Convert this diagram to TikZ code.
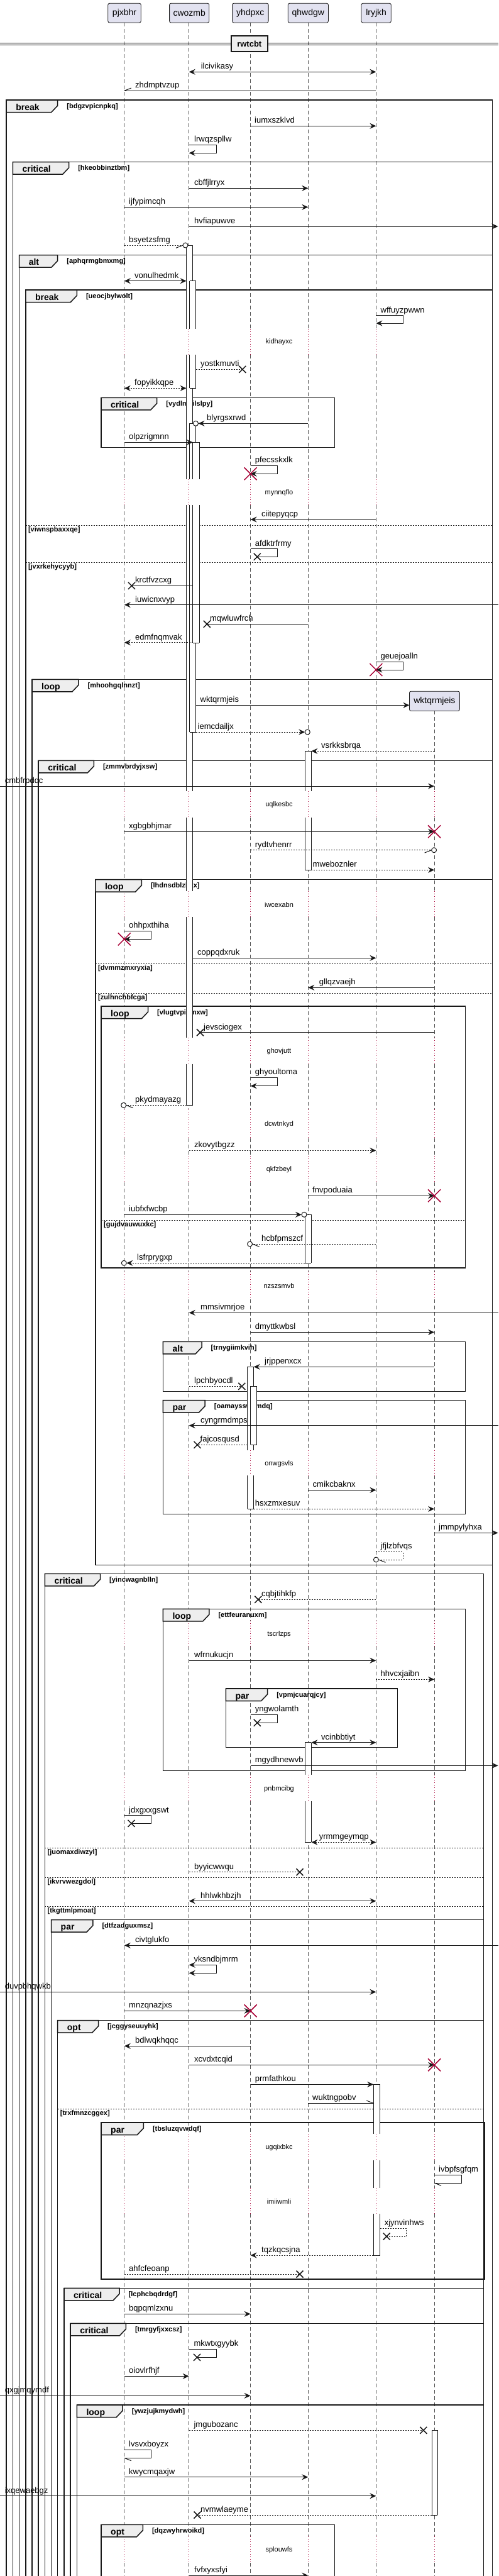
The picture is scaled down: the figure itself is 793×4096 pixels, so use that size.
\documentclass[tikz,border=0pt]{standalone}
\usepackage{fontspec}
\setmainfont{Liberation Sans}
\usetikzlibrary{arrows.meta}
\definecolor{lc}{HTML}{181818}
\definecolor{pfill}{HTML}{E2E2F0}
\definecolor{tabfill}{HTML}{EEEEEE}
\definecolor{dcol}{HTML}{A80036}
\newcommand\mfont{\fontsize{13}{15}\selectfont}
\newcommand\pfont{\fontsize{14}{16}\selectfont}
\newcommand\kfont{\bfseries\fontsize{14}{16}\selectfont}
\newcommand\cfont{\bfseries\fontsize{11}{13}\selectfont}
\newcommand\dfont{\fontsize{11}{13}\selectfont}
\def\XA{197.8}\def\XB{300.7}\def\XC{398.6}\def\XD{490.3}\def\XE{598.4}\def\XF{691.1}
\newcommand\Msg[6][]{\draw[msgl,#1] (#2,#4) -- (#3,#4); \node[lbl] at (#5,#4-4.5) {#6};}
\newcommand\SelfM[7][]{\draw[msgl,#1] (#2,#3) -- (#5,#3) -- (#5,#4) -- (#2,#4); \node[lbl] at (#6,#3-4.5) {#7};}
\newcommand\Xb[2]{\draw[lc,line width=1.5pt] (#1-5.5,#2-5.5) -- (#1+5.5,#2+5.5) (#1-5.5,#2+5.5) -- (#1+5.5,#2-5.5);}
\newcommand\Xr[2]{\draw[dcol,line width=1.5pt] (#1-10,#2-10) -- (#1+10,#2+10) (#1-10,#2+10) -- (#1+10,#2-10);}
\newcommand\CircE[2]{\draw[lc,line width=1pt,fill=white] (#1,#2) circle (4pt);}
\newcommand\HalfL[3]{\draw[msgl] (#1,#2) -- ++(-11*#3,4.3);}
\newcommand\HalfU[3]{\draw[msgl] (#1,#2) -- ++(-11*#3,-4.3);}
\newcommand\BarP[4]{\fill[white] (#1,#3) rectangle (#2,#4); \draw[barl] (#1,#3) -- (#1,#4) (#2,#3) -- (#2,#4);}
\newcommand\BarC[3]{\draw[barl] (#1,#3) -- (#2,#3);}
\newcommand\Frm[7]{%
  \draw[frm] (#1,#4) -- (#1,#2) -- (#3,#2) -- (#3,#4) -- cycle;
  \filldraw[frm,fill=tabfill] (#1,#2) -- (#6,#2) -- (#6,#2+9) -- (#6-10,#2+19.5) -- (#1,#2+19.5) -- cycle;
  \node[kwl] at (#1+15,#2+16) {#5};
  \node[cnl] at (#6+14.5,#2+13) {[#7]};}
\newcommand\Els[4]{\draw[lc,line width=1pt,dash pattern=on 2pt off 2pt] (#1,#3) -- (#2,#3); \node[cnl] at (#1+4,#3+10) {[#4]};}
\def\NonDelay{36/522.7,564/761.7,803.3/1258.3,1300/1416.7,1458.3/1650,1691.7/1764,1810/1838,1880/2022,2066/2305.7,2346/2576.7,2618/2822.3,2864/3393.3,3435/3479.3,3520/4033,4075/4100}
\def\NonDelayF{1130.3/1258.3,1300/1416.7,1458.3/1650,1691.7/1764,1810/1838,1880/2022,2066/2305.7,2346/2576.7,2618/2822.3,2864/3393.3,3435/3479.3,3520/4033,4075/4100}
\def\DlyEarly{522.7/564/543.3/kidhayxc,761.7/803.3/783.3/mynnqflo}
\def\DlyLate{1258.3/1300/1280/uqlkesbc,1416.7/1458.3/1438.3/iwcexabn,1650/1691.7/1671.7/ghovjutt,1764/1810/1787.3/dcwtnkyd,1838/1880/1859.3/qkfzbeyl,2022/2066/2045/nzszsmvb,2305.7/2346/2327.3/onwgsvls,2576.7/2618/2598.3/tscrlzps,2822.3/2864/2844.3/pnbmcibg,3393.3/3435/3415/ugqixbkc,3479.3/3520/3500/imiiwmli,4033/4075/4054.3/splouwfs}
\begin{document}
\begin{tikzpicture}[x=1pt,y=-1pt,
  >={Stealth[length=10pt,width=9pt,inset=3.5pt]},
  msgl/.style={draw=lc,line width=1pt},
  dsh/.style={dash pattern=on 2pt off 2pt},
  lbl/.style={font=\mfont,anchor=base west,inner sep=0pt},
  life/.style={draw=lc!75,line width=0.8pt,dash pattern=on 6pt off 4pt},
  dly/.style={draw=dcol,line width=0.8pt,dash pattern=on 1pt off 3pt},
  frm/.style={draw=lc,line width=1.5pt},
  kwl/.style={font=\kfont,anchor=base west,inner sep=0pt},
  cnl/.style={font=\cfont,anchor=base west,inner sep=0pt},
  barl/.style={draw=lc,line width=1pt},
  pbox/.style={draw=lc,line width=0.8pt,fill=pfill,rounded corners=2.5pt,font=\pfont,inner sep=0pt,minimum height=30.7pt}]
\useasboundingbox (0,0) rectangle (793,4096);
\fill[white] (0,0) rectangle (793,4096);
% lifelines
\foreach \x in {\XA,\XB,\XC,\XD,\XE}{\foreach \a/\b in \NonDelay {\draw[life] (\x,\a) -- (\x,\b);}}
\foreach \a/\b in \NonDelayF {\draw[life] (\XF,\a) -- (\XF,\b);}
\foreach \a/\b/\c/\t in \DlyEarly {\foreach \x in {\XA,\XB,\XC,\XD,\XE}{\draw[dly] (\x,\a) -- (\x,\b);}}
\foreach \a/\b/\c/\t in \DlyLate {\foreach \x in {\XA,\XB,\XC,\XD,\XE,\XF}{\draw[dly] (\x,\a) -- (\x,\b);}}
% participants
\node[pbox,minimum width=52.5pt] (pjxbhr) at (198.05,20.65) {pjxbhr};
\node[pbox,minimum width=63.2pt] (cwozmb) at (301.2,20.65) {cwozmb};
\node[pbox,minimum width=57.6pt] (yhdpxc) at (398.3,20.65) {yhdpxc};
\node[pbox,minimum width=64.2pt] (qhwdgw) at (490.3,20.65) {qhwdgw};
\node[pbox,minimum width=47.3pt] (lryjkh) at (598.65,20.65) {lryjkh};
\node[pbox,minimum width=80pt,minimum height=31pt] (wktq) at (691.4,1114.8) {wktqrmjeis};
% divider
\draw[lc,line width=1pt] (0,68.3) -- (793,68.3) (0,71.3) -- (793,71.3);
\node[draw=lc,line width=2pt,fill=tabfill,font=\bfseries\fontsize{13}{15}\selectfont,minimum width=57.6pt,minimum height=24.7pt,inner sep=0pt] (rwtcbt) at (396.8,69.65) {rwtcbt};
% frames
\Frm{10.2}{159}{783.4}{4100}{break}{91.7}{bdgzvpicnpkq}
\Frm{20.4}{257.7}{783.4}{4100}{critical}{109.6}{hkeobbinztbm}
\Frm{30.6}{405.7}{783.4}{4100}{alt}{91.7}{aphqrmgbmxmg}
\Frm{40.8}{461}{783.4}{4100}{break}{122.3}{ueocjbylwolt}
\Frm{161}{632.3}{532.6}{711.7}{critical}{249.7}{vydlmhilslpy}
\Els{40.8}{783.4}{835.3}{viwnspbaxxqe}
\Els{40.8}{783.4}{894.3}{jvxrkehycyyb}
\Frm{51}{1080.3}{783.4}{4100}{loop}{124.9}{mhoohgqlnnzt}
\Frm{61.2}{1209.3}{783.4}{4100}{critical}{149.3}{zmmvbrdyjxsw}
\Frm{151.9}{1398.7}{783.4}{2488.3}{loop}{225.3}{lhdnsdblzhkx}
\Els{151.9}{783.4}{1532.3}{dvmmzmxryxia}
\Els{151.9}{783.4}{1579.3}{zulhnchbfcga}
\Frm{161}{1600}{740.6}{2016}{loop}{235.5}{vlugtvpiumxw}
\Els{161}{740.6}{1940}{gujdvauwuxkc}
\Frm{259.4}{2133.3}{740.6}{2212.3}{alt}{321}{trnygiimkvih}
\Frm{259.4}{2226.7}{740.6}{2407.3}{par}{326.2}{oamaysswpmdq}
\Frm{71.4}{2502.3}{769.6}{4100}{critical}{159.5}{yincwagnblln}
\Frm{259.4}{2558.3}{740.6}{2815.7}{loop}{332.8}{ettfeuranuxm}
\Frm{359.3}{2685}{632.5}{2778.7}{par}{425.6}{vpmjcuarqjcy}
\Els{71.4}{769.6}{2938.3}{juomaxdiwzyl}
\Els{71.4}{769.6}{2985.3}{ikvrvwezgdol}
\Els{71.4}{769.6}{3031.3}{tkgttmlpmoat}
\Frm{81.5}{3052.7}{769.6}{4100}{par}{147.8}{dtfzadguxmsz}
\Frm{91.7}{3212.7}{769.6}{4100}{opt}{156.5}{jcggyseuuyhk}
\Els{91.7}{769.6}{3353.3}{trxfmnzcggex}
\Frm{161}{3375}{771}{3624}{par}{228.3}{tbsluzqvwdqf}
\Frm{102}{3638.3}{769.6}{4100}{critical}{190}{lcphcbqdrdgf}
\Frm{112.1}{3694.3}{769.6}{4100}{critical}{200.3}{tmrgyfjxxcsz}
\Frm{122.3}{3824}{769.6}{4100}{loop}{195.2}{ywzjujkmydwh}
\Frm{161}{4014.3}{532.6}{4100}{opt}{227.3}{dqzwyhrwoikd}
% activation bars
\BarP{296.6}{306.8}{390}{522.7}\BarP{296.6}{306.8}{564}{761.7}\BarP{296.6}{306.8}{803.3}{1258.3}\BarP{296.6}{306.8}{1300}{1416.7}\BarP{296.6}{306.8}{1458.3}{1650}\BarP{296.6}{306.8}{1691.7}{1757.3}
\BarC{296.6}{306.8}{390}\BarC{296.6}{306.8}{1757.3}
\BarP{301.7}{311.9}{446.7}{522.7}\BarP{301.7}{311.9}{564}{617.3}\BarC{301.7}{311.9}{446.7}\BarC{301.7}{311.9}{617.3}
\BarP{301.7}{311.9}{673.3}{761.7}\BarP{301.7}{311.9}{803.3}{1164.3}\BarC{301.7}{311.9}{673.3}\BarC{301.7}{311.9}{1164.3}
\BarP{306.8}{317}{703.3}{761.7}\BarP{306.8}{317}{803.3}{1022.3}\BarC{306.8}{317}{703.3}\BarC{306.8}{317}{1022.3}
\BarP{485.2}{495.4}{1194.3}{1258.3}\BarP{485.2}{495.4}{1300}{1383.3}\BarC{485.2}{495.4}{1194.3}\BarC{485.2}{495.4}{1383.3}
\BarP{485.2}{495.4}{1931.3}{2008.3}\BarC{485.2}{495.4}{1931.3}\BarC{485.2}{495.4}{2008.3}
\BarP{393.5}{403.7}{2173.3}{2305.7}\BarP{393.5}{403.7}{2346}{2399.3}\BarC{393.5}{403.7}{2173.3}\BarC{393.5}{403.7}{2399.3}
\BarP{398.6}{408.8}{2204.3}{2297.3}\BarC{398.6}{408.8}{2204.3}\BarC{398.6}{408.8}{2297.3}
\BarP{485.2}{495.4}{2770.7}{2822.3}\BarP{485.2}{495.4}{2864}{2929.3}\BarC{485.2}{495.4}{2770.7}\BarC{485.2}{495.4}{2929.3}
\BarP{594.3}{604.5}{3314.3}{3393.3}\BarP{594.3}{604.5}{3435}{3479.3}\BarP{594.3}{604.5}{3520}{3586}\BarC{594.3}{604.5}{3314.3}\BarC{594.3}{604.5}{3586}
\BarP{687}{696.2}{3864.3}{3999}\BarC{687}{696.2}{3864.3}\BarC{687}{696.2}{3999}
% messages
\Msg[<->]{\XB}{\XE}{114.3}{319.6}{ilcivikasy}
\Msg{\XE}{\XA}{144.3}{215}{zhdmptvzup}\HalfU{\XA}{144.3}{-1}
\Msg[->]{\XC}{\XE}{200.3}{405}{iumxszklvd}
\SelfM[->]{\XB}{230.3}{243.3}{344}{309}{lrwqzspllw}
\Msg[->]{\XB}{\XD}{299.3}{309}{cbffjlrryx}
\Msg[->]{\XA}{\XD}{329.3}{205}{ijfypimcqh}
\Msg[->]{\XB}{792.5}{360}{309}{hvfiapuwve}
\Msg[dsh]{\XA}{291}{390}{205}{bsyetzsfmg}\HalfL{291}{390}{1}\CircE{295}{390}
\Msg[<->]{\XA}{296.6}{446.7}{214}{vonulhedmk}
\SelfM[->]{\XE}{501.7}{514}{641}{605.5}{wffuyzpwwn}
\Msg[dsh]{311.9}{385.8}{587.3}{319}{yostkmuvti}\Xb{385.8}{587.3}
\Msg[<->,dsh]{\XA}{296.6}{617.3}{214}{fopyikkqpe}
\Msg[->]{\XD}{315.5}{673.3}{329}{blyrgsxrwd}\CircE{311.5}{673.3}
\Msg[->]{\XA}{306.8}{703.3}{205}{olpzrigmnn}
\SelfM[->]{\XC}{740.3}{753.3}{441}{405.7}{pfecsskxlk}\Xr{\XC}{753.3}
\Msg[->]{\XE}{\XC}{826}{416}{ciitepyqcp}
\draw[msgl] (\XC,872.7) -- (441,872.7) -- (441,885.3) -- (409.3,885.3); \node[lbl] at (405.7,868.2) {afdktrfrmy}; \Xb{409.3}{885.3}
\Msg{306.8}{209.5}{931.3}{215}{krctfvzcxg}\Xb{209.5}{931.3}
\Msg[->]{792.5}{\XA}{961.7}{215}{iuwicnxvyp}
\Msg{\XD}{329.3}{992.3}{333.8}{mqwluwfrch}\Xb{329.3}{992.3}
\Msg[->,dsh]{306.8}{\XA}{1021.7}{215}{edmfnqmvak}
\SelfM[->]{\XE}{1052.3}{1065}{641}{605.5}{geuejoalln}\Xr{\XE}{1065}
\Msg[->]{311.9}{651.4}{1121.3}{318.5}{wktqrmjeis}
\Msg[->,dsh]{311.9}{485.3}{1164}{314.5}{iemcdailjx}\CircE{489.3}{1164}
\Msg[->,dsh]{\XF}{495.4}{1194.3}{511}{vsrkksbrqa}
\Msg[->]{0}{\XF}{1250}{7.6}{cmbfrpdqc}
\Msg[->]{\XA}{\XF}{1322.3}{205}{xgbgbhjmar}\Xr{\XF}{1322.3}
\Msg[dsh]{\XC}{686.6}{1351.7}{405.7}{rydtvhenrr}\HalfL{686.6}{1351.7}{1}\CircE{690.6}{1351.7}
\Msg[->,dsh]{495.4}{\XF}{1383.3}{497.5}{mweboznler}
\SelfM[->]{\XA}{1480.3}{1493.3}{240.6}{205}{ohhpxthiha}\Xr{\XA}{1493.3}
\Msg[->]{306.8}{\XE}{1523.3}{314}{coppqdxruk}
\Msg[->]{\XF}{\XD}{1570.3}{507.6}{gllqzvaejh}
\Msg{\XF}{318.5}{1641.7}{324}{jevsciogex}\Xb{318.5}{1641.7}
\SelfM[->]{\XC}{1713.3}{1726.7}{441}{405.7}{ghyoultoma}
\Msg[dsh]{296.6}{200.7}{1757.3}{215}{pkydmayazg}\HalfL{200.7}{1757.3}{-1}\CircE{196.7}{1757.3}
\Msg[->,dsh]{\XB}{\XE}{1829.3}{309}{zkovytbgzz}
\Msg[->]{\XD}{\XF}{1901.3}{497}{fnvpoduaia}\Xr{\XF}{1901.3}
\Msg[->]{\XA}{480}{1931.3}{205}{iubfxfwcbp}\CircE{484}{1931.3}
\Msg[dsh]{\XE}{401.6}{1978}{416}{hcbfpmszcf}\HalfL{401.6}{1978}{-1}\CircE{397.6}{1978}
\Msg[->,dsh]{485.2}{201.3}{2008.3}{218}{lsfrprygxp}\CircE{197.3}{2008.3}
\Msg[->]{792.5}{\XB}{2087.3}{319}{mmsivmrjoe}
\Msg[->]{\XC}{\XF}{2118.3}{405.7}{dmyttkwbsl}
\Msg[->]{\XF}{403.7}{2173.3}{421}{jrjppenxcx}
\Msg[dsh]{\XB}{384.8}{2204.3}{309}{lpchbyocdl}\Xb{384.8}{2204.3}
\Msg[->]{792.5}{\XB}{2266.7}{319}{cyngrmdmps}
\Msg[dsh]{393.5}{314}{2297.3}{318.5}{fajcosqusd}\Xb{314}{2297.3}
\Msg[->]{\XD}{\XE}{2369.3}{497.5}{cmikcbaknx}
\Msg[->,dsh]{403.7}{\XF}{2399.3}{405.7}{hsxzmxesuv}
\Msg[->]{\XF}{792.5}{2437.3}{698}{jmmpylyhxa}
\draw[msgl,dsh] (\XE,2467.3) -- (641,2467.3) -- (641,2480) -- (602.4,2480); \HalfL{602.4}{2480}{-1}\CircE{598.4}{2480}
\node[lbl] at (605.5,2462.8) {jfjlzbfvqs};
\Msg[dsh]{\XE}{410.8}{2543.3}{416}{cqbjtihkfp}\Xb{410.8}{2543.3}
\Msg[->]{\XB}{\XE}{2640.3}{309}{wfrnukucjn}
\Msg[->,dsh]{\XE}{\XF}{2670.3}{605.5}{hhvcxjaibn}
\draw[msgl] (\XC,2726) -- (441,2726) -- (441,2739.3) -- (409.3,2739.3); \Xb{409.3}{2739.3}
\node[lbl] at (405.7,2721.5) {yngwolamth};
\Msg[<->]{495.4}{\XE}{2770.7}{511}{vcinbbtiyt}
\Msg[->]{\XC}{792.5}{2807.3}{405.7}{mgydhnewvb}
\draw[msgl] (\XA,2886.7) -- (240.6,2886.7) -- (240.6,2899.3) -- (209,2899.3); \Xb{209}{2899.3}
\node[lbl] at (205,2882.2) {jdxgxxgswt};
\Msg[<->,dsh]{495.4}{\XE}{2929.3}{507.6}{yrmmgeymqp}
\Msg[dsh]{\XB}{477}{2976.7}{309}{byyicwwqu}\Xb{477}{2976.7}
\Msg[<->]{\XB}{\XE}{3022.7}{319}{hhlwkhbzjh}
\Msg[->]{792.5}{\XA}{3093.3}{215}{civtglukfo}
\SelfM[<->]{\XB}{3124.3}{3137.3}{344}{308.4}{vksndbjmrm}
\Msg[->]{0}{\XE}{3167.3}{7.6}{duvpbhqwkb}
\Msg[->]{\XA}{\XC}{3197.3}{205}{mnzqnazjxs}\Xr{\XC}{3197.3}
\Msg[->]{\XC}{\XA}{3253.3}{215}{bdlwqkhqqc}
\Msg[->]{\XB}{\XF}{3283.3}{309}{xcvdxtcqid}\Xr{\XF}{3283.3}
\Msg[->]{\XC}{594.3}{3314.3}{405.7}{prmfathkou}
\Msg{\XD}{594.3}{3344.3}{497}{wuktngpobv}\HalfU{594.3}{3344.3}{1}
\draw[msgl] (\XF,3458.3) -- (734,3458.3) -- (734,3471) -- (\XF,3471); \HalfL{\XF}{3471}{-1}
\node[lbl] at (698,3453.8) {ivbpfsgfqm};
\draw[msgl,dsh] (604.5,3543.3) -- (646.3,3543.3) -- (646.3,3556) -- (615.2,3556); \Xb{615.2}{3556}
\node[lbl] at (611.6,3538.8) {xjynvinhws};
\Msg[->,dsh]{594.3}{\XC}{3586}{416}{tqzkqcsjna}
\Msg[dsh]{\XA}{477}{3616}{205}{ahfcfeoanp}\Xb{477}{3616}
\Msg[->]{\XA}{\XC}{3679.3}{205}{bqpqmlzxnu}
\draw[msgl] (\XB,3735) -- (344,3735) -- (344,3748.3) -- (313.5,3748.3); \Xb{313.5}{3748.3}
\node[lbl] at (308.4,3730.5) {mkwtxgyybk};
\Msg[->]{\XA}{\XB}{3778.3}{205}{oiovlrfhjf}
\Msg[->]{0}{\XC}{3809.3}{7.6}{qxgjmqymdf}
\Msg[dsh]{\XB}{673.8}{3864.3}{308.4}{jmgubozanc}\Xb{673.8}{3864.3}
\draw[msgl] (\XA,3895.3) -- (240.6,3895.3) -- (240.6,3908.3) -- (\XA,3908.3); \HalfL{\XA}{3908.3}{-1}
\node[lbl] at (205,3890.8) {lvsvxboyzx};
\Msg[->]{\XA}{\XD}{3938.7}{205}{kwycmqaxjw}
\Msg[->]{0}{\XE}{3968.7}{7.6}{ixqewaebgz}
\Msg[dsh]{687}{314}{3999}{319}{nvmwlaeyme}\Xb{314}{3999}
\Msg[->]{\XB}{\XD}{4095}{309}{fvfxyxsfyi}
% delay texts
\foreach \a/\b/\c/\t in \DlyEarly {\node[font=\dfont,inner sep=0pt] at (444,\c) {\t};}
\foreach \a/\b/\c/\t in \DlyLate {\node[font=\dfont,inner sep=0pt] at (444,\c) {\t};}
\end{tikzpicture}
\end{document}
